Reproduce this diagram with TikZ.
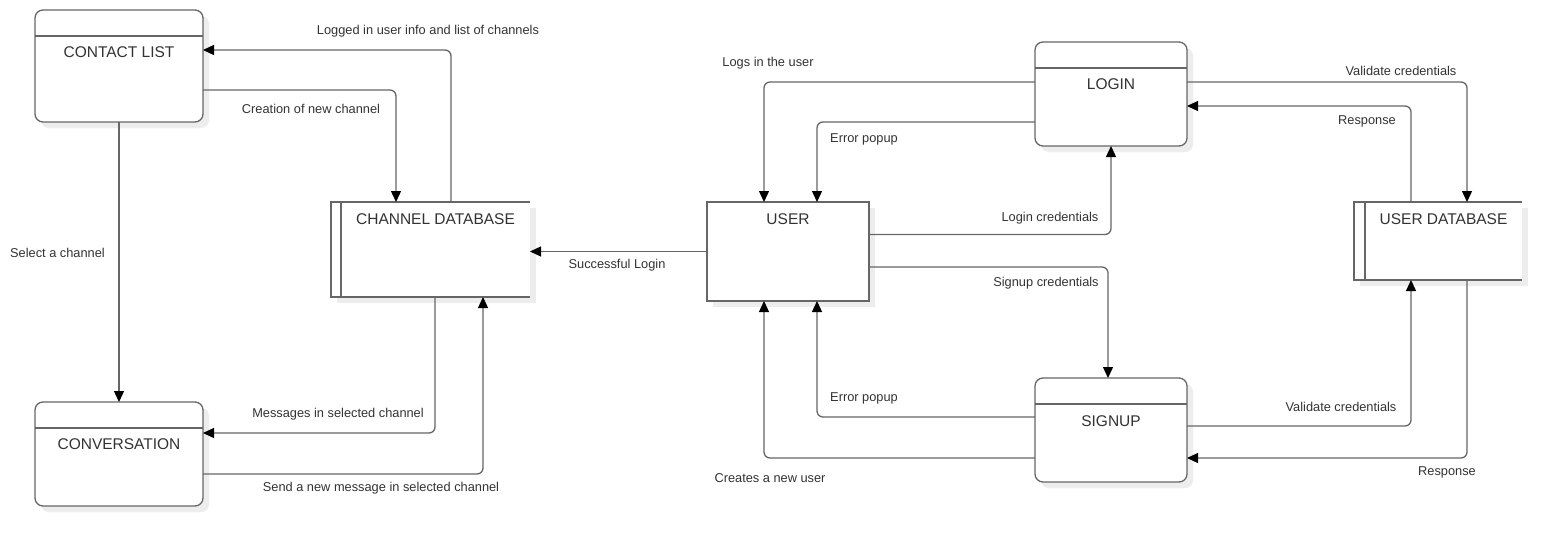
\documentclass[tikz,border=0pt]{standalone}
\usepackage{fontspec}
\setmainfont{Liberation Sans}
\usetikzlibrary{arrows.meta,shadows}
\definecolor{edge}{HTML}{666666}
\definecolor{ink}{HTML}{333333}
\definecolor{shade}{HTML}{EDEDED}
\begin{document}
\begin{tikzpicture}[x=1pt,y=-1pt,
  every node/.style={outer sep=0pt, inner sep=0pt},
  boxshadow/.style={drop shadow={shadow xshift=6pt, shadow yshift=-6pt, fill=shade, opacity=1}},
  procbox/.style={draw=edge, line width=1.3pt, rounded corners=8pt, fill=white, boxshadow},
  entity/.style={draw=edge, line width=1.3pt, fill=white, boxshadow},
  storebox/.style={fill=white, boxshadow},
  outline/.style={draw=edge, line width=1.3pt},
  title/.style={text=ink, font=\fontsize{15.5}{18}\selectfont},
  flowlabel/.style={text=ink, font=\fontsize{12.8}{15}\selectfont},
  flow/.style={draw=edge, line width=1.3pt, rounded corners=6pt,
    -{Triangle[length=11pt,width=10pt,color=black]}},
]
\useasboundingbox[fill=white] (0,0) rectangle (1562,546);

% ---- processes and stores ----
\node[procbox, minimum width=168pt, minimum height=112pt] (cl) at (119,66) {};
\draw[outline] ([yshift=-26pt]cl.north west) -- ([yshift=-26pt]cl.north east);
\node[title] (cl-t) at (119,52) {CONTACT LIST};

\node[procbox, minimum width=168pt, minimum height=104pt] (conv) at (119,454) {};
\draw[outline] ([yshift=-26pt]conv.north west) -- ([yshift=-26pt]conv.north east);
\node[title] (conv-t) at (119,444) {CONVERSATION};

\node[storebox, minimum width=199pt, minimum height=95pt] (chdb) at (430.5,249.5) {};
\draw[outline] (chdb.north east) -- (chdb.north west) -- (chdb.south west) -- (chdb.south east);
\draw[outline] ([xshift=10pt]chdb.north west) -- ([xshift=10pt]chdb.south west);
\node[title] (chdb-t) at (435.5,219) {CHANNEL DATABASE};

\node[entity, minimum width=162pt, minimum height=99pt] (user) at (788,251.5) {};
\node[title] (user-t) at (788,219) {USER};

\node[procbox, minimum width=152pt, minimum height=104pt] (login) at (1111,94) {};
\draw[outline] ([yshift=-26pt]login.north west) -- ([yshift=-26pt]login.north east);
\node[title] (login-t) at (1111,84) {LOGIN};

\node[procbox, minimum width=152pt, minimum height=104pt] (signup) at (1111,430) {};
\draw[outline] ([yshift=-26pt]signup.north west) -- ([yshift=-26pt]signup.north east);
\node[title] (signup-t) at (1111,421) {SIGNUP};

\node[storebox, minimum width=168pt, minimum height=78pt] (udb) at (1438,241) {};
\draw[outline] (udb.north east) -- (udb.north west) -- (udb.south west) -- (udb.south east);
\draw[outline] ([xshift=11pt]udb.north west) -- ([xshift=11pt]udb.south west);
\node[title] (udb-t) at (1443.5,219) {USER DATABASE};

% ---- data flows ----
\draw[flow] ([xshift=20.5pt]chdb.north) |- ([yshift=16pt]cl.east);
\draw[flow] ([yshift=-24pt]cl.east) -| ([xshift=-34.5pt]chdb.north);
\draw[flow] (cl.south) -- (conv.north);
\draw[flow] ([xshift=4.5pt]chdb.south) |- ([yshift=21pt]conv.east);
\draw[flow] ([yshift=-20pt]conv.east) -| ([xshift=52.5pt]chdb.south);
\draw[flow] (user.west) -- (user.west -| chdb.east);
\draw[flow] ([yshift=12pt]login.west) -| ([xshift=-24pt]user.north);
\draw[flow] ([yshift=-28pt]login.west) -| ([xshift=29pt]user.north);
\draw[flow] ([yshift=17pt]user.east) -| (login.south);
\draw[flow] ([yshift=-15.5pt]user.east) -| ([xshift=-3pt]signup.north);
\draw[flow] ([yshift=13pt]signup.west) -| ([xshift=29pt]user.south);
\draw[flow] ([yshift=-28pt]signup.west) -| ([xshift=-24pt]user.south);
\draw[flow] ([yshift=12pt]login.east) -| ([xshift=29pt]udb.north);
\draw[flow] ([xshift=-27pt]udb.north) |- ([yshift=-12pt]login.east);
\draw[flow] ([yshift=4pt]signup.east) -| ([xshift=-27pt]udb.south);
\draw[flow] ([xshift=29pt]udb.south) |- ([yshift=-28pt]signup.east);

% ---- flow labels ----
\node[flowlabel] (l1) at (428,31) {Logged in user info and list of channels};
\node[flowlabel] (l2) at (311,109) {Creation of new channel};
\node[flowlabel] (l3) at (57.5,253) {Select a channel};
\node[flowlabel] (l4) at (338,414) {Messages in selected channel};
\node[flowlabel] (l5) at (381,488) {Send a new message in selected channel};
\node[flowlabel] (l6) at (617,265) {Successful Login};
\node[flowlabel] (l7) at (768,63) {Logs in the user};
\node[flowlabel] (l8) at (864,139) {Error popup};
\node[flowlabel] (l9) at (1050,218) {Login credentials};
\node[flowlabel] (l10) at (1046,283) {Signup credentials};
\node[flowlabel] (l11) at (864,398) {Error popup};
\node[flowlabel] (l12) at (770,478) {Creates a new user};
\node[flowlabel] (l13) at (1401,71) {Validate credentials};
\node[flowlabel] (l14) at (1367,121) {Response};
\node[flowlabel] (l15) at (1341,407) {Validate credentials};
\node[flowlabel] (l16) at (1447,472) {Response};
\end{tikzpicture}
\end{document}
